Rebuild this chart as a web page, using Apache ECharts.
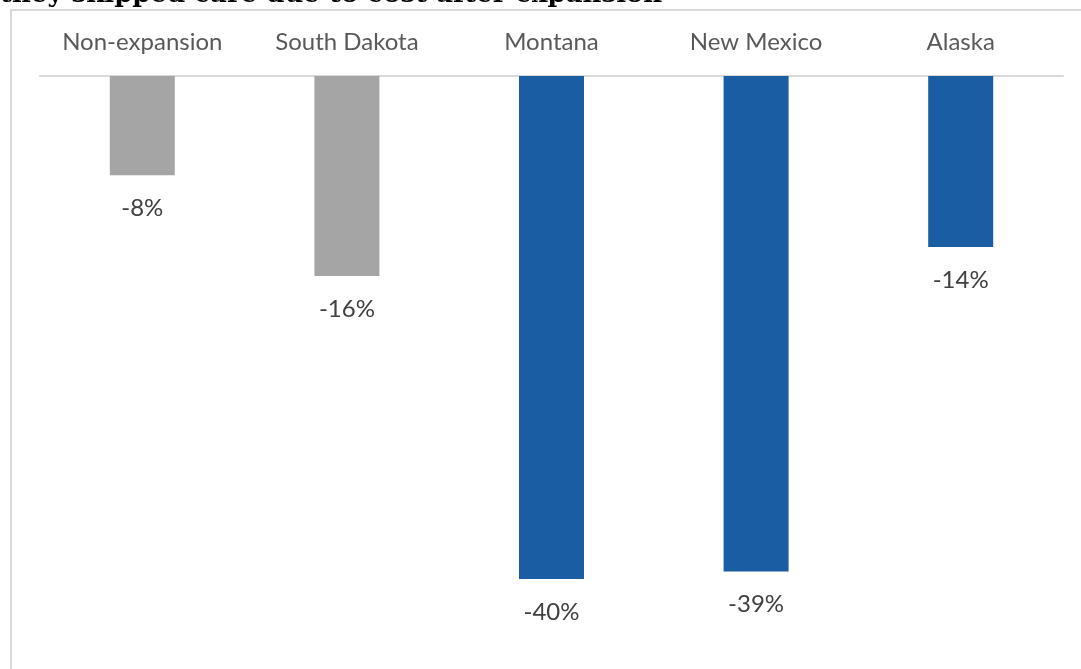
<!DOCTYPE html>
<html>
<head>
<meta charset="utf-8">
<script src="https://cdn.jsdelivr.net/npm/echarts@6/dist/echarts.min.js"></script>
<style>
html,body{margin:0;padding:0;background:#fff;}
#chart{width:1081px;height:669px;}
</style>
</head>
<body>
<div id="chart"></div>
<script>
const titleText = 'they skipped care due to cost after expansion';
const categories = ['Non-expansion', 'South Dakota', 'Montana', 'New Mexico', 'Alaska'];
const values = [-7.9, -15.9, -40, -39.4, -13.6];
const expansionGroup = ['non', 'non', 'exp', 'exp', 'exp'];

const colorMap = { non: '#A5A5A5', exp: '#1A5DA2' };
const chart = echarts.init(document.getElementById('chart'), null, { renderer: 'canvas' });

chart.setOption({
  animation: false,
  backgroundColor: '#ffffff',
  graphic: [
    {
      type: 'rect',
      shape: { x: 11, y: 10, width: 1200, height: 1000 },
      style: { fill: 'none', stroke: '#d9d9d9', lineWidth: 2 },
      silent: true
    },
    {
      type: 'text',
      x: 0,
      y: -5,
      style: {
        text: titleText,
        font: 'bold 26px "DejaVu Serif"',
        fill: '#000000',
        textVerticalAlign: 'middle'
      },
      silent: true
    }
  ],
  grid: { left: 40, right: 18, top: 76, bottom: 27 },
  xAxis: {
    type: 'category',
    position: 'top',
    data: categories,
    axisLine: { show: true, onZero: false, lineStyle: { color: '#d9d9d9', width: 2 } },
    axisTick: { show: false },
    axisLabel: {
      margin: 22,
      fontFamily: 'Lato',
      fontSize: 24,
      color: '#595959',
      interval: 0
    },
    splitLine: { show: false }
  },
  yAxis: {
    type: 'value',
    min: -45,
    max: 0,
    show: false,
    splitLine: { show: false }
  },
  series: [{
    type: 'bar',
    barWidth: 65,
    data: values.map((v, i) => ({ value: v, itemStyle: { color: colorMap[expansionGroup[i]] } })),
    label: {
      show: true,
      position: 'bottom',
      distance: 21,
      fontFamily: 'Lato',
      fontSize: 24,
      color: '#404040',
      formatter: p => Math.round(p.value) + '%'
    }
  }]
});
</script>
</body>
</html>
